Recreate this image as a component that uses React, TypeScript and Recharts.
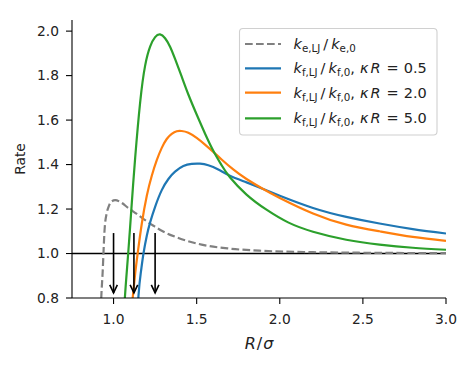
import React from "react";
import { LineChart, Line, XAxis, YAxis, ReferenceLine } from "recharts";

// Data
const xTicks = [1.0, 1.5, 2.0, 2.5, 3.0];
const yTicks = [0.8, 1.0, 1.2, 1.4, 1.6, 1.8, 2.0];

const eR = [0.915, 0.926, 0.934, 0.946, 0.96, 0.97, 0.985, 1.01, 1.04, 1.09, 1.14, 1.19, 1.24, 1.29, 1.39, 1.53, 1.7, 1.9, 2.2, 2.6, 3.0];
const eRate = [0.5, 0.8, 0.91, 1.107, 1.185, 1.21, 1.232, 1.24, 1.232, 1.204, 1.178, 1.15, 1.125, 1.102, 1.07, 1.04, 1.022, 1.012, 1.006, 1.003, 1.002];

const k05R = [1.13, 1.15, 1.165, 1.18, 1.2, 1.22, 1.25, 1.29, 1.33, 1.37, 1.42, 1.47, 1.52, 1.57, 1.63, 1.7, 1.8, 1.9, 2.0, 2.2, 2.4, 2.6, 2.8, 3.0];
const k05Rate = [0.55, 0.81, 0.92, 1.0, 1.08, 1.14, 1.21, 1.285, 1.335, 1.368, 1.393, 1.403, 1.404, 1.397, 1.378, 1.35, 1.32, 1.29, 1.26, 1.205, 1.165, 1.135, 1.11, 1.09];

const k20R = [1.1, 1.115, 1.13, 1.145, 1.17, 1.2, 1.23, 1.26, 1.29, 1.32, 1.35, 1.38, 1.41, 1.45, 1.5, 1.55, 1.6, 1.65, 1.72, 1.8, 1.9, 2.0, 2.2, 2.4, 2.6, 2.8, 3.0];
const k20Rate = [0.68, 0.8, 0.91, 1.0, 1.135, 1.26, 1.35, 1.42, 1.475, 1.515, 1.538, 1.55, 1.551, 1.543, 1.52, 1.49, 1.457, 1.423, 1.378, 1.335, 1.29, 1.25, 1.18, 1.13, 1.1, 1.075, 1.057];

const k50R = [1.05, 1.068, 1.088, 1.11, 1.13, 1.16, 1.19, 1.22, 1.25, 1.28, 1.31, 1.34, 1.37, 1.41, 1.45, 1.5, 1.55, 1.6, 1.65, 1.7, 1.8, 1.92, 2.05, 2.2, 2.4, 2.6, 2.8, 3.0];
const k50Rate = [0.55, 0.8, 1.0, 1.23, 1.43, 1.68, 1.845, 1.93, 1.973, 1.985, 1.968, 1.93, 1.875, 1.795, 1.715, 1.625, 1.54, 1.462, 1.397, 1.343, 1.265, 1.197, 1.14, 1.098, 1.062, 1.04, 1.026, 1.017];

const arrowX = [1.0, 1.1225, 1.25];
const arrowTop = 1.092;
const arrowTip = 0.823;

const toPts = (xs: number[], ys: number[]) => xs.map((x, i) => ({ x, y: ys[i] }));

const eData = toPts(eR, eRate);
const k05Data = toPts(k05R, k05Rate);
const k20Data = toPts(k20R, k20Rate);
const k50Data = toPts(k50R, k50Rate);

const FONT = "DejaVu Sans, sans-serif";
const TXT = "#222";

const ArrowHead = (props: any) => {
  const { cx, cy, index } = props;
  if (index !== 1 || cx == null || cy == null) return <g key={`ah-${index}`} />;
  return (
    <path
      key={`ah-${index}`}
      d={`M${cx - 3.8},${cy - 8} L${cx},${cy} L${cx + 3.8},${cy - 8}`}
      stroke="#000"
      strokeWidth={1.6}
      fill="none"
    />
  );
};

const LegendText = ({ x, y, s, kappa }: { x: number; y: number; s: string; kappa?: string }) => (
  <text x={x} y={y} fontFamily={FONT} fontSize={14.5} fill={TXT}>
    <tspan fontStyle="italic">k</tspan>
    <tspan fontSize={10.3} dy={3}>{s},LJ</tspan>
    <tspan dy={-3} dx={3}>/</tspan>
    <tspan fontStyle="italic" dx={3}>k</tspan>
    <tspan fontSize={10.3} dy={3}>{s},0</tspan>
    {kappa ? (
      <>
        <tspan dy={-3}>,</tspan>
        <tspan fontStyle="italic" dx={5}>κ</tspan>
        <tspan fontStyle="italic" dx={2}>R</tspan>
        <tspan dx={6}>=</tspan>
        <tspan dx={5}>{kappa}</tspan>
      </>
    ) : null}
  </text>
);

export default function App() {
  const rows = [
    { color: "#808080", dash: "7.7 3.3", s: "e", kappa: undefined, y: 44 },
    { color: "#1f77b4", dash: undefined, s: "f", kappa: "0.5", y: 68.3 },
    { color: "#ff7f0e", dash: undefined, s: "f", kappa: "2.0", y: 92.7 },
    { color: "#2ca02c", dash: undefined, s: "f", kappa: "5.0", y: 118.3 },
  ];
  return (
    <div style={{ position: "absolute", left: 0, top: 0, width: 471, height: 365, background: "#fff" }}>
      <LineChart width={471} height={365} margin={{ top: 20, right: 25, left: 0, bottom: 0 }}>
        <XAxis
          type="number"
          dataKey="x"
          domain={[0.75, 3.0]}
          allowDataOverflow
          ticks={xTicks}
          tickFormatter={(v: number) => v.toFixed(1)}
          height={67}
          tickSize={6}
          tickMargin={10}
          stroke="#000"
          axisLine={{ stroke: "#000", strokeWidth: 1.1 }}
          tickLine={{ stroke: "#000", strokeWidth: 1.1 }}
          tick={{ fill: TXT, fontSize: 13.8, fontFamily: FONT }}
        />
        <XAxis
          xAxisId="top"
          orientation="top"
          type="number"
          domain={[0.75, 3.0]}
          allowDataOverflow
          height={0}
          tick={false}
          tickLine={false}
          axisLine={{ stroke: "#000", strokeWidth: 1.1 }}
        />
        <YAxis
          type="number"
          domain={[0.8, 2.05]}
          allowDataOverflow
          ticks={yTicks}
          tickFormatter={(v: number) => v.toFixed(1)}
          width={72}
          tickSize={6}
          tickMargin={7}
          axisLine={{ stroke: "#000", strokeWidth: 1.1 }}
          tickLine={{ stroke: "#000", strokeWidth: 1.1 }}
          tick={{ fill: TXT, fontSize: 13.8, fontFamily: FONT }}
        />
        <YAxis
          yAxisId="right"
          orientation="right"
          type="number"
          domain={[0.8, 2.05]}
          allowDataOverflow
          width={0}
          tick={false}
          tickLine={false}
          axisLine={{ stroke: "#000", strokeWidth: 1.1 }}
        />
        <ReferenceLine y={1.0} stroke="#000" strokeWidth={1.4} />
        <Line data={eData} dataKey="y" type="monotone" stroke="#808080" strokeWidth={2.2} strokeDasharray="7.7 3.3" dot={false} isAnimationActive={false} />
        <Line data={k05Data} dataKey="y" type="natural" stroke="#1f77b4" strokeWidth={2.2} dot={false} isAnimationActive={false} />
        <Line data={k20Data} dataKey="y" type="natural" stroke="#ff7f0e" strokeWidth={2.2} dot={false} isAnimationActive={false} />
        <Line data={k50Data} dataKey="y" type="natural" stroke="#2ca02c" strokeWidth={2.2} dot={false} isAnimationActive={false} />
        {arrowX.map((ax) => (
          <Line
            key={`arrow-${ax}`}
            data={[{ x: ax, y: arrowTop }, { x: ax, y: arrowTip }]}
            dataKey="y"
            type="linear"
            stroke="#000"
            strokeWidth={1.6}
            dot={ArrowHead}
            activeDot={false}
            isAnimationActive={false}
          />
        ))}
      </LineChart>
      <svg width={471} height={365} style={{ position: "absolute", left: 0, top: 0, pointerEvents: "none" }}>
        <rect x={239.5} y={28.5} width={197.5} height={106.5} rx={3.5} fill="#fff" fillOpacity={0.8} stroke="#d0d0d0" strokeWidth={1.1} />
        {rows.map((r, i) => (
          <g key={i}>
            <line x1={245} x2={281} y1={r.y} y2={r.y} stroke={r.color} strokeWidth={2.2} strokeDasharray={r.dash} />
            <LegendText x={293.5} y={r.y + 5} s={r.s} kappa={r.kappa} />
          </g>
        ))}
        <text x={259} y={349} textAnchor="middle" fontFamily={FONT} fontSize={16} fill={TXT}>
          <tspan fontStyle="italic">R</tspan>
          <tspan dx={1}>/</tspan>
          <tspan fontStyle="italic" dx={1}>σ</tspan>
        </text>
        <text x={25} y={159} textAnchor="middle" fontFamily={FONT} fontSize={13.8} fill={TXT} transform="rotate(-90 25 159)">
          Rate
        </text>
      </svg>
    </div>
  );
}
